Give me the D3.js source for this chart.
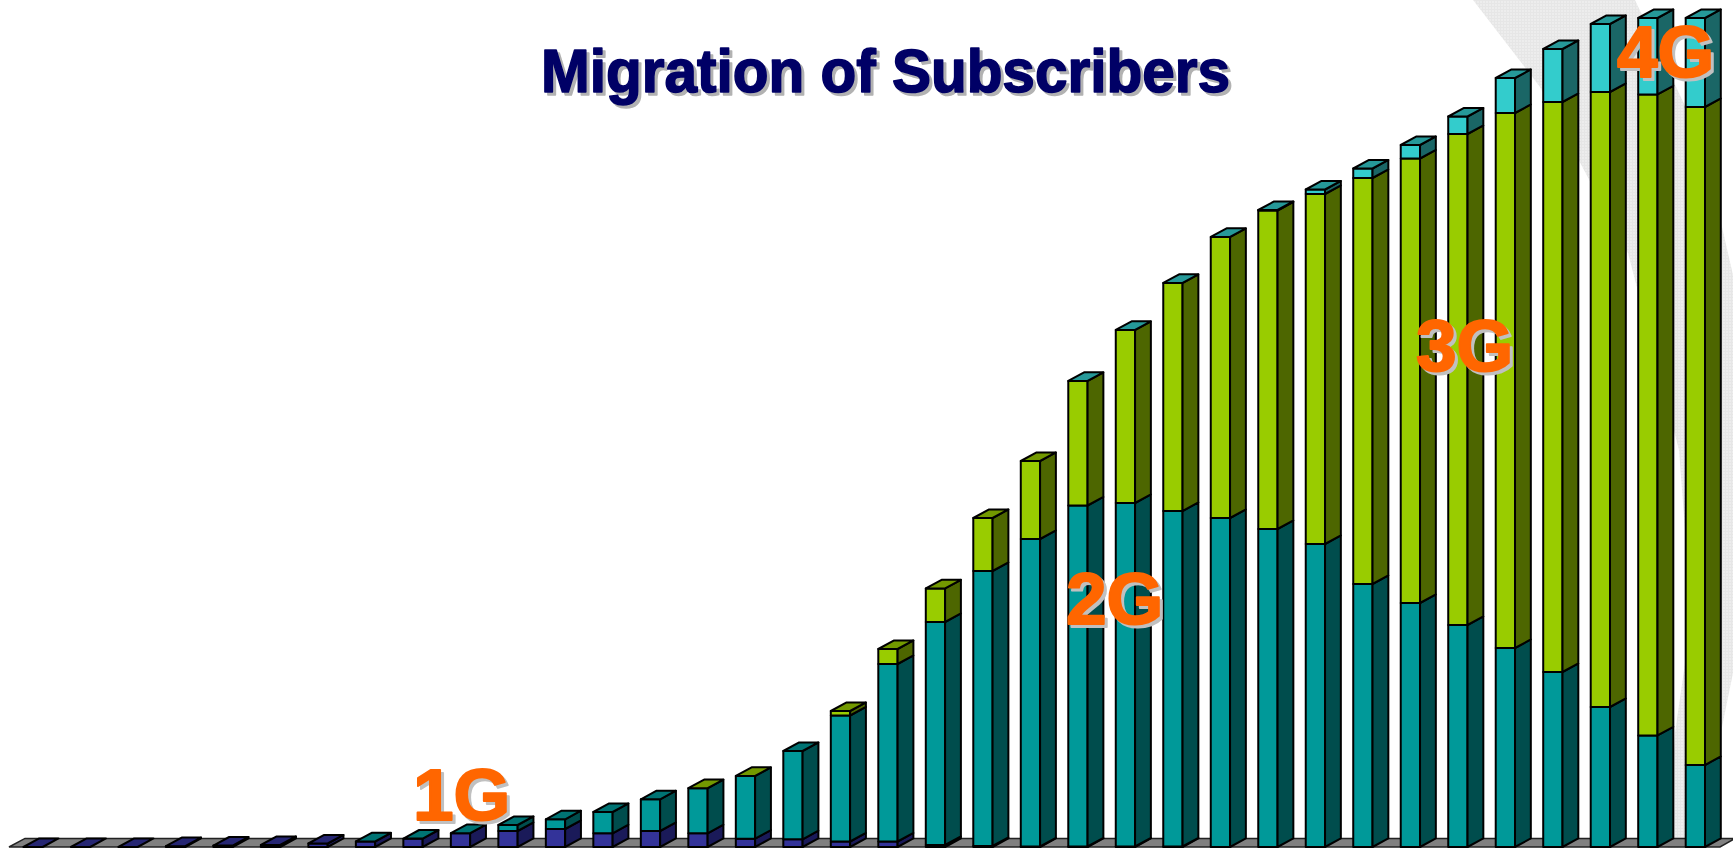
<!DOCTYPE html>
<html>

<head>
  <meta charset="UTF-8" />
  <title>Migration of Subscribers</title>
  <script src="https://d3js.org/d3.v7.min.js"></script>
  <style>
    html, body { margin: 0; padding: 0; background: #fff; overflow: hidden; }
    svg { display: block; }
    text { font-family: "Liberation Sans", Arial, sans-serif; font-weight: bold; }
  </style>
</head>

<body>
  <div id="chart"></div>

  <script>
    // values, arbitrary units (no axis in the original)
    const titleText = "Migration of Subscribers";
    const generations = ["1G", "2G", "3G", "4G"];
    const periods = d3.range(1, 37);

    const values1G = [0, 0, 0, 0.8, 1.4, 2, 3.5, 5.5, 8.3, 13.7, 16, 18, 13.7, 16, 13.7, 8.3, 7.7, 5.5, 5.5, 2, 1, 0.5, 0.5, 0.5, 0.5, 0, 0, 0, 0, 0, 0, 0, 0, 0, 0, 0];
    const values2G = [0, 0, 0, 0, 0, 0, 0, 0.1, 0.1, 0.1, 6, 9.7, 21.3, 31.7, 45, 62.7, 88.3, 126, 177.5, 223, 275, 307.5, 341, 343.5, 335.5, 329, 318, 303, 263, 244, 222, 199, 175, 140, 111.6, 82];
    const values3G = [0, 0, 0, 0, 0, 0, 0, 0, 0, 0, 0, 0, 0, 0, 0.1, 0.1, 0, 4.5, 15, 33.6, 53, 78, 124.5, 173, 228, 281, 318.5, 350, 406, 444.5, 491, 535, 570, 615, 641, 658];
    const values4G = [0, 0, 0, 0, 0, 0, 0, 0, 0, 0, 0, 0, 0, 0, 0, 0, 0, 0, 0, 0, 0, 0, 0.1, 0.1, 0.1, 0.1, 0.5, 4.5, 9.5, 13.5, 17.5, 35, 53, 68, 76.4, 89];

    const labelBaselines = [820, 624, 371, 77];
    const labelLefts = [413, 1066, 1416, 1617];

    const colors = {
      "1G": { front: "#333399", side: "#1a1a59", top: "#262673" },
      "2G": { front: "#009999", side: "#004d4d", top: "#007373" },
      "3G": { front: "#99cc00", side: "#4d6600", top: "#739900" },
      "4G": { front: "#33cccc", side: "#1a6666", top: "#269999" }
    };

    const width = 1733, height = 848;
    const barWidth = 19.3, depthX = 15.8, depthY = 8.6;

    const rows = periods.map((p, i) => ({
      period: p,
      "1G": values1G[i], "2G": values2G[i], "3G": values3G[i], "4G": values4G[i]
    }));
    const series = d3.stack().keys(generations)(rows);

    const xScale = d3.scalePoint().domain(periods).range([23.4, 1685.7]);
    const yScale = d3.scaleLinear().domain([0, 847]).range([847, 0]);

    const svg = d3.select("#chart")
      .append("svg")
      .attr("width", width)
      .attr("height", height);

    svg.append("rect").attr("width", width).attr("height", height).attr("fill", "#fff");

    // dithered backdrop
    const pattern = svg.append("defs").append("pattern")
      .attr("id", "dither")
      .attr("width", 3).attr("height", 3)
      .attr("patternUnits", "userSpaceOnUse");
    pattern.append("rect").attr("width", 3).attr("height", 3).attr("fill", "#ededed");
    pattern.append("rect").attr("width", 3).attr("height", 1).attr("fill", "#e6e6e6");
    pattern.append("rect").attr("width", 1).attr("height", 3).attr("fill", "#e6e6e6");

    const swooshLeft = [[1473, 0], [1540, 87], [1628, 253], [1679, 450], [1685, 530], [1700, 600], [1685, 663], [1675, 733], [1668, 848]];
    const swooshRight = [[1700, 848], [1722, 727], [1733, 673], [1733, 275], [1722, 227], [1687, 110], [1635, 0]];
    svg.append("path")
      .attr("d", d3.line()(swooshLeft.concat(swooshRight)) + "Z")
      .attr("fill", "url(#dither)");

    // floor
    svg.append("path")
      .attr("d", d3.line()([[9, 847], [25, 838.4], [1735, 838.4], [1720, 847]]) + "Z")
      .attr("fill", "#808080")
      .attr("stroke", "#222")
      .attr("stroke-width", 1.5);

    function parallelogram(x, y0, y1) {
      return d3.line()([[x, y0], [x + depthX, y0 - depthY], [x + depthX, y1 - depthY], [x, y1]]) + "Z";
    }

    const bars = svg.selectAll("g.bar")
      .data(rows)
      .enter()
      .append("g")
      .attr("class", "bar")
      .attr("stroke", "#000")
      .attr("stroke-width", 2)
      .attr("stroke-linejoin", "round");

    bars.each(function (d, i) {
      const g = d3.select(this);
      const x = xScale(d.period);
      series.forEach(s => {
        const y0 = yScale(s[i][0]), y1 = yScale(s[i][1]);
        if (s[i][1] - s[i][0] <= 0.2) return;
        g.append("rect")
          .attr("x", x).attr("y", y1)
          .attr("width", barWidth).attr("height", y0 - y1)
          .attr("fill", colors[s.key].front);
        g.append("path")
          .attr("d", parallelogram(x + barWidth, y0, y1))
          .attr("fill", colors[s.key].side);
      });
      // top face takes the colour of the last series that has a value
      const last = series.filter(s => s[i][1] - s[i][0] > 0);
      const topKey = last.length ? last[last.length - 1].key : "1G";
      const yTop = yScale(d3.sum(generations, k => d[k]));
      g.append("path")
        .attr("d", d3.line()([[x, yTop], [x + depthX, yTop - depthY], [x + depthX + barWidth, yTop - depthY], [x + barWidth, yTop]]) + "Z")
        .attr("fill", colors[topKey].top);
    });

    function shadowText(str, x, y, size, fill, shadow, offset, weight, length) {
      [[offset, shadow], [0, fill]].forEach(([o, c]) => {
        const t = svg.append("text")
          .attr("x", x + o)
          .attr("y", y + o)
          .attr("font-size", size)
          .attr("fill", c)
          .attr("stroke", c)
          .attr("stroke-width", weight)
          .attr("stroke-linejoin", "round")
          .text(str);
        if (length) t.attr("textLength", length).attr("lengthAdjust", "spacingAndGlyphs");
      });
    }

    shadowText(titleText, 541, 92, 62, "#000066", "#b2b2b2", 3, 1.6, 689);

    generations.forEach((g, i) => {
      shadowText(g, labelLefts[i], labelBaselines[i], 73, "#ff6600", "#c0c0c0", 3, 2);
    });
  </script>
</body>

</html>
